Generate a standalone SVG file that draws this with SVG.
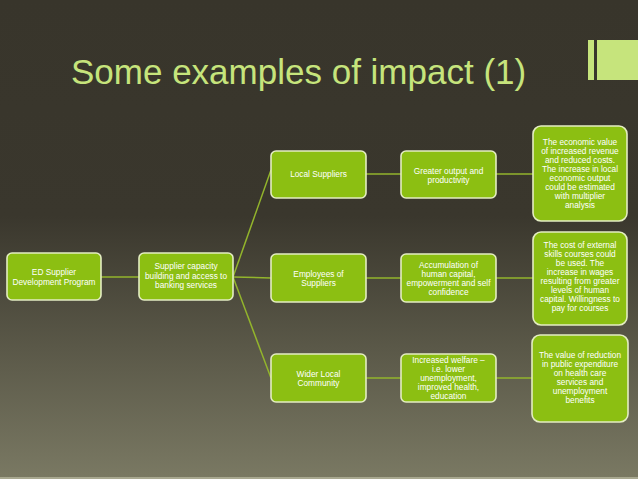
<svg xmlns="http://www.w3.org/2000/svg" width="638" height="479" viewBox="0 0 638 479">
<defs>
<linearGradient id="bg" x1="0" y1="0" x2="0" y2="1">
<stop offset="0" stop-color="#38352b"/>
<stop offset="0.45" stop-color="#3a372d"/>
<stop offset="1" stop-color="#7a7963"/>
</linearGradient>
<style>
.box{fill:#8cbf12;stroke:#e4edc2;stroke-width:1.6}
.t{font-family:"Liberation Sans",Arial,sans-serif;font-size:8.3px;fill:#ffffff;text-anchor:middle}
.c{stroke:#93b52c;stroke-width:1.5;fill:none}
.title{font-family:"Liberation Sans",Arial,sans-serif;font-size:35px;fill:#c6e47c}
</style>
</defs>
<rect x="0" y="0" width="638" height="479" fill="url(#bg)"/>
<rect x="0" y="477" width="638" height="2" fill="#a8a890"/>
<text class="title" x="71" y="84">Some examples of impact (1)</text>
<rect x="588" y="40" width="6" height="40" fill="#c6e47c"/>
<rect x="597" y="40" width="41" height="40" fill="#c6e47c"/>
<g id="connectors">
<line class="c" x1="101" y1="277" x2="139" y2="277"/>
<line class="c" x1="233" y1="277" x2="271" y2="170"/>
<line class="c" x1="233" y1="277" x2="271" y2="278"/>
<line class="c" x1="233" y1="277" x2="271" y2="378"/>
<line class="c" x1="366" y1="174" x2="401" y2="174"/>
<line class="c" x1="496" y1="174" x2="533" y2="174"/>
<line class="c" x1="366" y1="278" x2="401" y2="278"/>
<line class="c" x1="496" y1="278" x2="533" y2="278"/>
<line class="c" x1="366" y1="378" x2="401" y2="378"/>
<line class="c" x1="496" y1="378" x2="533" y2="378"/>
</g>
<g id="n1"><rect class="box" x="7" y="253" width="94" height="47" rx="5"/>
<text class="t" x="54" y="275">ED Supplier</text><text class="t" x="54" y="285">Development Program</text></g>
<g id="n2"><rect class="box" x="139" y="253" width="94" height="47" rx="5"/>
<text class="t" x="186" y="269">Supplier capacity</text><text class="t" x="186" y="278.5">building and access to</text><text class="t" x="186" y="288">banking services</text></g>
<g id="n3"><rect class="box" x="271" y="151" width="95" height="47" rx="5"/>
<text class="t" x="318.5" y="177">Local Suppliers</text></g>
<g id="n4"><rect class="box" x="401" y="151" width="95" height="47" rx="5"/>
<text class="t" x="448.5" y="174">Greater output and</text><text class="t" x="448.5" y="183">productivity</text></g>
<g id="n5"><rect class="box" x="533" y="126" width="94" height="95" rx="8"/>
<text class="t" x="580" y="145">The economic value</text><text class="t" x="580" y="154">of increased revenue</text><text class="t" x="580" y="163">and reduced costs.</text><text class="t" x="580" y="172">The increase in local</text><text class="t" x="580" y="181">economic output</text><text class="t" x="580" y="190">could be estimated</text><text class="t" x="580" y="199">with multiplier</text><text class="t" x="580" y="208">analysis</text></g>
<g id="n6"><rect class="box" x="271" y="254" width="95" height="48" rx="5"/>
<text class="t" x="318.5" y="277">Employees of</text><text class="t" x="318.5" y="286">Suppliers</text></g>
<g id="n7"><rect class="box" x="401" y="254" width="95" height="48" rx="5"/>
<text class="t" x="448.5" y="268">Accumulation of</text><text class="t" x="448.5" y="277">human capital,</text><text class="t" x="448.5" y="286">empowerment and self</text><text class="t" x="448.5" y="295">confidence</text></g>
<g id="n8"><rect class="box" x="533" y="232" width="94" height="93" rx="8"/>
<text class="t" x="580" y="248">The cost of external</text><text class="t" x="580" y="257">skills courses could</text><text class="t" x="580" y="266">be used.  The</text><text class="t" x="580" y="275">increase in wages</text><text class="t" x="580" y="284">resulting from greater</text><text class="t" x="580" y="293">levels of human</text><text class="t" x="580" y="302">capital.  Willingness to</text><text class="t" x="580" y="311">pay for courses</text></g>
<g id="n9"><rect class="box" x="271" y="354" width="95" height="48" rx="5"/>
<text class="t" x="318.5" y="377">Wider Local</text><text class="t" x="318.5" y="386">Community</text></g>
<g id="n10"><rect class="box" x="401" y="354" width="95" height="48" rx="5"/>
<text class="t" x="448.5" y="363">Increased welfare –</text><text class="t" x="448.5" y="372">i.e. lower</text><text class="t" x="448.5" y="381">unemployment,</text><text class="t" x="448.5" y="390">improved health,</text><text class="t" x="448.5" y="399">education</text></g>
<g id="n11"><rect class="box" x="532" y="335" width="96" height="87" rx="8"/>
<text class="t" x="580" y="358">The value of reduction</text><text class="t" x="580" y="367">in public expenditure</text><text class="t" x="580" y="376">on health care</text><text class="t" x="580" y="385">services and</text><text class="t" x="580" y="394">unemployment</text><text class="t" x="580" y="403">benefits</text></g>
</svg>
